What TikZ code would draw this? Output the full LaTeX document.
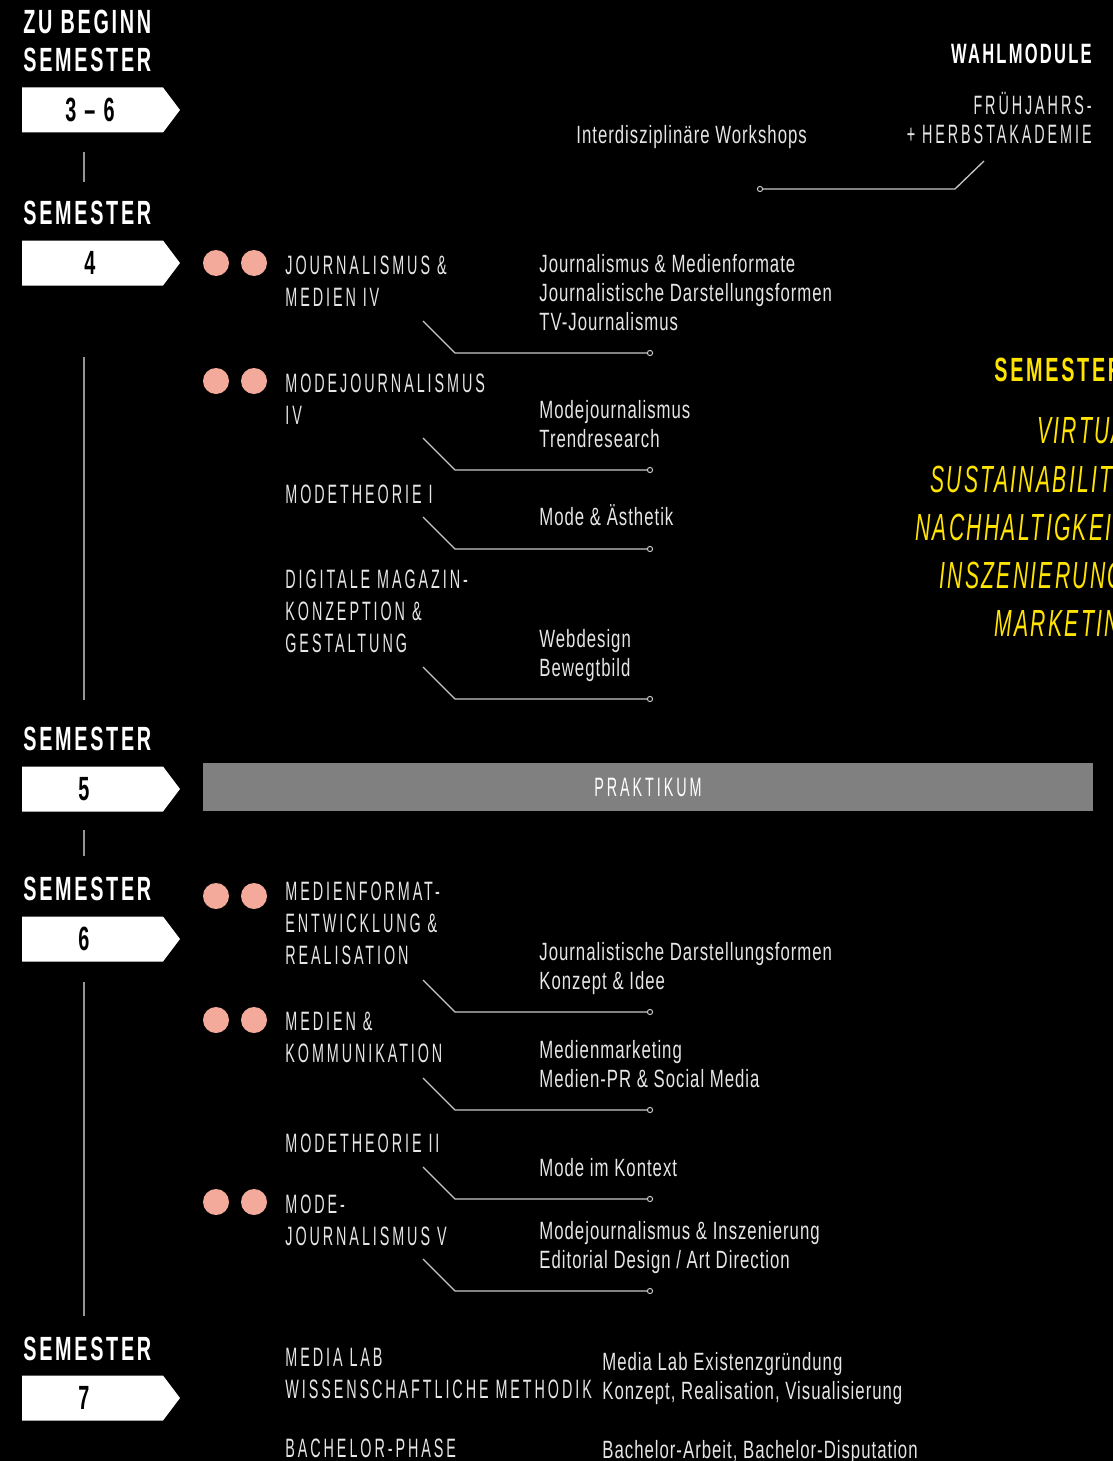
\documentclass[tikz,border=0pt]{standalone}
\usepackage{fontspec}
\setmainfont{Liberation Sans}
\newfontfamily\modfont{Liberation Sans}[FakeStretch=0.54,LetterSpace=11]
\newfontfamily\subfont{Liberation Sans}[FakeStretch=0.67,LetterSpace=4]
\newfontfamily\headfont{Liberation Sans}[FakeStretch=0.59,LetterSpace=8]
\newfontfamily\accfont{Liberation Sans}[FakeStretch=0.56,LetterSpace=6]
\definecolor{dotpink}{HTML}{F4AA9B}
\definecolor{accyellow}{HTML}{FFE400}
\definecolor{linegrey}{HTML}{C8C8C8}
\definecolor{barfill}{HTML}{808080}
\definecolor{txt}{HTML}{E6E6E6}
\tikzset{
	modname/.style={anchor=base west,inner sep=0pt,align=left,text=txt,font=\modfont\fontsize{13.3}{16}\selectfont},
	topic/.style={anchor=base west,inner sep=0pt,align=left,text=txt,font=\subfont\fontsize{12.5}{14.5}\selectfont},
	semhead/.style={anchor=base west,inner sep=0pt,text=white,font=\headfont\bfseries\fontsize{16.8}{19}\selectfont},
	semnum/.style={inner sep=0pt,text=black,font=\headfont\bfseries\fontsize{16.8}{19}\selectfont},
	focus/.style={anchor=base west,inner sep=0pt,text=accyellow,font=\accfont\itshape\fontsize{18.9}{22}\selectfont},
	link/.style={draw=linegrey,line width=0.65pt},
	linkend/.style={circle,draw=linegrey,fill=black,line width=0.5pt,inner sep=0pt,minimum size=2.6pt},
	dot/.style={circle,fill=dotpink,inner sep=0pt,minimum size=13pt},
	timeline/.style={draw=linegrey!75!black,line width=0.6pt}
}
% white arrow tag: name, y, x of the number, number
\newcommand\semtag[4]{%
	\fill[white] (22,#2-22.5) -- (163,#2-22.5) -- (180,#2) -- (163,#2+22.5) -- (22,#2+22.5) -- cycle;
	\node[semnum] (#1) at (#3,#2) {#4};}

\begin{document}
\begin{tikzpicture}[x=0.5pt,y=-0.5pt]
	\useasboundingbox (0,0) rectangle (1113,1461);
	\fill[black] (0,0) rectangle (1113,1461);
	\clip (0,0) rectangle (1113,1461);
	
	%SEMESTER COLUMN
	\node[semhead] (zub) at (23,34) {ZU BEGINN};
	\node[semhead] (sem36) at (23,72) {SEMESTER};
	\semtag{n36}{110}{90}{3 – 6}
	\node[semhead] (sem4) at (23,224) {SEMESTER};
	\semtag{n4}{263}{90}{4}
	\node[semhead] (sem5) at (23,750) {SEMESTER};
	\semtag{n5}{789}{84}{5}
	\node[semhead] (sem6) at (23,900) {SEMESTER};
	\semtag{n6}{939}{84}{6}
	\node[semhead] (sem7) at (23,1360) {SEMESTER};
	\semtag{n7}{1398}{84}{7}
	\foreach \a/\b in {152/182,357/700,830/856,982/1316}{
		\draw[timeline] (84,\a) -- (84,\b);
	}
	
	%WAHLMODULE
	\node[semhead,anchor=base east,font=\headfont\bfseries\fontsize{14}{16}\selectfont] (wahl) at (1092,64) {WAHLMODULE};
	\node[modname,anchor=base east] (fja) at (1092,114) {FRÜHJAHRS-};
	\node[modname,anchor=base east] (hak) at (1092,143) {+ HERBSTAKADEMIE};
	\node[topic] (iws) at (576,143) {Interdisziplinäre Workshops};
	\node[linkend] (wend) at (760,189) {};
	\coordinate (wbend) at (955,189);
	\coordinate (wtop) at (984,161);
	\draw[link] (wend) -- (wbend) -- (wtop);
	
	%DOTS
	\foreach \y in {263,381,896,1020,1202}{
		\node[dot] (da\y) at (216,\y) {};
		\node[dot] (db\y) at (254,\y) {};
	}
	
	%MODULES (base = last line)
	\node[modname] (jm4) at (285,306) {JOURNALISMUS \&\\MEDIEN IV};
	\node[modname] (mj4) at (285,424) {MODEJOURNALISMUS\\IV};
	\node[modname] (mt1) at (285,503) {MODETHEORIE I};
	\node[modname] (dmk) at (285,652) {DIGITALE MAGAZIN-\\KONZEPTION \&\\GESTALTUNG};
	\node[modname] (mfe) at (285,964) {MEDIENFORMAT-\\ENTWICKLUNG \&\\REALISATION};
	\node[modname] (mko) at (285,1062) {MEDIEN \&\\KOMMUNIKATION};
	\node[modname] (mt2) at (285,1152) {MODETHEORIE II};
	\node[modname] (mj5) at (285,1245) {MODE-\\JOURNALISMUS V};
	\node[modname] (mlab) at (285,1398) {MEDIA LAB\\WISSENSCHAFTLICHE METHODIK};
	\node[modname] (bph) at (285,1457) {BACHELOR-PHASE};
	
	%TOPICS
	\node[topic] (t1) at (539,330) {Journalismus \& Medienformate\\Journalistische Darstellungsformen\\TV-Journalismus};
	\node[topic] (t2) at (539,447) {Modejournalismus\\Trendresearch};
	\node[topic] (t3) at (539,525) {Mode \& Ästhetik};
	\node[topic] (t4) at (539,676) {Webdesign\\Bewegtbild};
	\node[topic] (t5) at (539,989) {Journalistische Darstellungsformen\\Konzept \& Idee};
	\node[topic] (t6) at (539,1087) {Medienmarketing\\Medien-PR \& Social Media};
	\node[topic] (t7) at (539,1176) {Mode im Kontext};
	\node[topic] (t8) at (539,1268) {Modejournalismus \& Inszenierung\\Editorial Design / Art Direction};
	\node[topic] (t9) at (602,1399) {Media Lab Existenzgründung\\Konzept, Realisation, Visualisierung};
	\node[topic] (t10) at (602,1458) {Bachelor-Arbeit, Bachelor-Disputation};
	
	%LINKS
	\foreach \y [count=\k] in {353,470,549,699,1012,1110,1199,1291}{
		\coordinate (bend\k) at (455,\y);
		\coordinate (kink\k) at (423,\y-32);
		\node[linkend] (end\k) at (650,\y) {};
		\draw[link] (kink\k) -- (bend\k) -- (end\k);
	}
	
	%PRAKTIKUM
	\node[fill=barfill,minimum width=445pt,minimum height=24pt,inner sep=0pt,text=white,font=\modfont\fontsize{13.3}{16}\selectfont] (prak) at (648,787) {PRAKTIKUM};
	
	%SEMESTER FOCUS (YELLOW)
	\node[semhead,text=accyellow] (ysem) at (994,381) {SEMESTER};
	\node[focus] (f1) at (1037,443) {VIRTUAL};
	\node[focus] (f2) at (930,492) {SUSTAINABILITY};
	\node[focus] (f3) at (915,540) {NACHHALTIGKEIT};
	\node[focus] (f4) at (939,588) {INSZENIERUNG};
	\node[focus] (f5) at (994,636) {MARKETING};
\end{tikzpicture}
\end{document}
